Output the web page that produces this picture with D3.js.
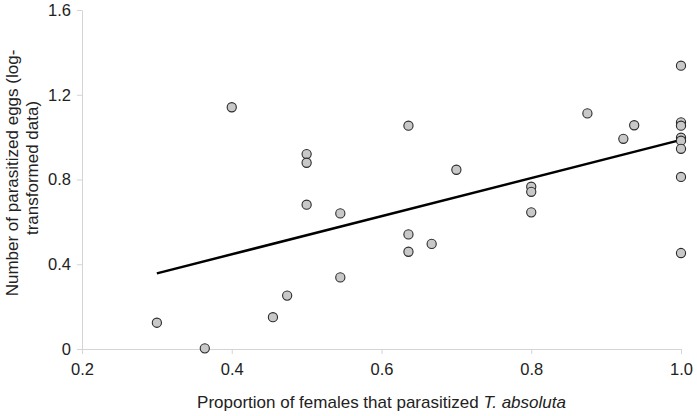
<!DOCTYPE html>
<html><head><meta charset="utf-8">
<script src="https://cdn.jsdelivr.net/npm/d3@7"></script>
<style>html,body{margin:0;padding:0;background:#fff;}</style>
</head><body>
<script>
const proportion = [0.3,0.364,0.4,0.455,0.474,0.5,0.5,0.5,0.545,0.545,0.636,0.636,0.636,0.667,0.7,0.8,0.8,0.8,0.875,0.923,0.9375,1.0,1.0,1.0,1.0,1.0,1.0,1.0,1.0];
const eggs = [0.124,0.003,1.141,0.150,0.252,0.920,0.879,0.681,0.640,0.338,1.054,0.541,0.459,0.496,0.846,0.766,0.742,0.645,1.112,0.992,1.056,1.337,1.070,1.054,0.997,0.983,0.945,0.812,0.453];
const fitX = [0.3, 1.0];
const fitY = [0.357, 0.987];
const xTicks = [0.2,0.4,0.6,0.8,1.0];
const yTicks = [0,0.4,0.8,1.2,1.6];
const xTitle = "Proportion of females that parasitized ";
const xTitleItalic = "T. absoluta";
const yTitle1 = "Number of parasitized eggs (log-";
const yTitle2 = "transformed data)";

const W=697,H=416;
const FONT="'Liberation Sans', Arial, sans-serif";
const svg=d3.select("body").append("svg").attr("width",W).attr("height",H)
  .style("font-family",FONT);
const x=d3.scaleLinear().domain([0.2,1.0]).range([82,681]);
const y=d3.scaleLinear().domain([0,1.6]).range([349,10]);

const axisColor="#d4d4d4";
const xa=svg.append("g").attr("transform",`translate(0,${y(0)})`)
  .call(d3.axisBottom(x).tickValues(xTicks).tickSize(5).tickSizeOuter(0).tickPadding(9)
    .tickFormat(d=>d3.format(".1f")(d)));
xa.select(".domain").attr("stroke",axisColor);
xa.selectAll(".tick line").attr("stroke",axisColor);
xa.selectAll(".tick text").attr("font-size",16.5).attr("fill","#222").attr("font-family",FONT);

const ya=svg.append("g").attr("transform",`translate(${x(0.2)},0)`)
  .call(d3.axisLeft(y).tickValues(yTicks).tickSize(5).tickSizeOuter(0).tickPadding(6)
    .tickFormat(d=>d===0?"0":d3.format(".1f")(d)));
ya.select(".domain").attr("stroke",axisColor);
ya.selectAll(".tick line").attr("stroke",axisColor);
ya.selectAll(".tick text").attr("font-size",16.5).attr("fill","#222").attr("font-family",FONT);

const t=svg.append("text").attr("x",(x(0.2)+x(1.0))/2).attr("y",408).attr("text-anchor","middle")
  .attr("font-size",17).attr("fill","#222");
t.append("tspan").text(xTitle);
t.append("tspan").attr("font-style","italic").text(xTitleItalic);

svg.append("text").attr("transform","translate(18,173) rotate(-90)").attr("text-anchor","middle")
  .attr("font-size",17).attr("fill","#222").text(yTitle1);
svg.append("text").attr("transform","translate(38,168) rotate(-90)").attr("text-anchor","middle")
  .attr("font-size",17).attr("fill","#222").text(yTitle2);

svg.append("path").datum(fitX.map((d,i)=>[d,fitY[i]]))
  .attr("d",d3.line().x(d=>x(d[0])).y(d=>y(d[1])))
  .attr("stroke","#000").attr("stroke-width",2.5).attr("fill","none");

svg.append("g").selectAll("circle").data(proportion.map((d,i)=>[d,eggs[i]])).join("circle")
  .attr("cx",d=>x(d[0])).attr("cy",d=>y(d[1])).attr("r",4.6)
  .attr("fill","#c8c8c8").attr("stroke","#2a2a2a").attr("stroke-width",1.1);
</script>
</body></html>
